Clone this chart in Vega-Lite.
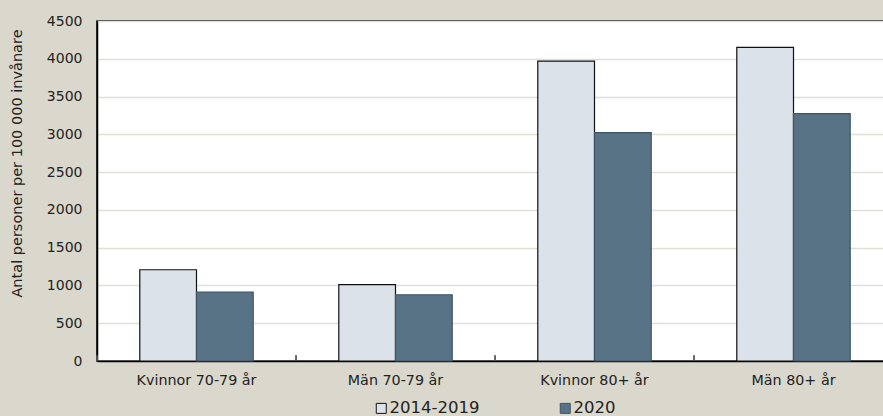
{
  "$schema": "https://vega.github.io/schema/vega-lite/v6.json",
  "autosize": {"type": "none"},
  "padding": {"left": 97, "top": 21, "right": 0, "bottom": 55},
  "width": 787,
  "height": 340,
  "background": "#dad8cc",
  "config": {
    "view": {"fill": "white", "stroke": "black", "strokeWidth": 1.5},
    "font": "DejaVu Sans"
  },
  "data": {
    "values": [
      {"grupp": "Kvinnor 70-79 år", "period": "2014-2019", "varde": 1208},
      {"grupp": "Kvinnor 70-79 år", "period": "2020", "varde": 913},
      {"grupp": "Män 70-79 år", "period": "2014-2019", "varde": 1010},
      {"grupp": "Män 70-79 år", "period": "2020", "varde": 877},
      {"grupp": "Kvinnor 80+ år", "period": "2014-2019", "varde": 3970},
      {"grupp": "Kvinnor 80+ år", "period": "2020", "varde": 3022},
      {"grupp": "Män 80+ år", "period": "2014-2019", "varde": 4151},
      {"grupp": "Män 80+ år", "period": "2020", "varde": 3273}
    ]
  },
  "layer": [
    {
      "mark": {"type": "bar", "strokeWidth": 1.2},
      "encoding": {
        "x": {
          "field": "grupp",
          "type": "nominal",
          "sort": ["Kvinnor 70-79 år", "Män 70-79 år", "Kvinnor 80+ år", "Män 80+ år"],
          "scale": {"range": [0, 796], "paddingInner": 0.43, "paddingOuter": 0.215},
          "axis": {
            "title": null,
            "labelAngle": 0,
            "labelFontSize": 14.3,
            "labelColor": "#222222",
            "domainColor": "black",
            "domainWidth": 1.5,
            "ticks": false,
            "labelPadding": 12,
            "labelLimit": 300
          }
        },
        "xOffset": {"field": "period", "type": "nominal", "sort": ["2014-2019", "2020"]},
        "y": {
          "field": "varde",
          "type": "quantitative",
          "scale": {"domain": [0, 4500], "nice": false},
          "axis": {
            "values": [0, 500, 1000, 1500, 2000, 2500, 3000, 3500, 4000, 4500],
            "format": "d",
            "title": "Antal personer per 100 000 invånare",
            "titleFontSize": 14.5,
            "titleFontWeight": "normal",
            "titleColor": "#222222",
            "titleAngle": 270,
            "titleX": -80,
            "titleY": 142,
            "titleAlign": "center",
            "titleBaseline": "middle",
            "labelFontSize": 14,
            "labelColor": "#222222",
            "labelPadding": 15,
            "ticks": false,
            "domainColor": "black",
            "domainWidth": 1.5,
            "gridColor": "#e2dfd6",
            "gridWidth": 1.5
          }
        },
        "fill": {
          "field": "period",
          "type": "nominal",
          "scale": {"domain": ["2014-2019", "2020"], "range": ["#dbe2e9", "#587385"]},
          "legend": {
            "title": null,
            "orient": "none",
            "direction": "horizontal",
            "legendX": 276,
            "legendY": 379,
            "padding": 0,
            "symbolType": "square",
            "symbolSize": 100,
            "symbolStrokeWidth": 1,
            "labelFontSize": 16.5,
            "labelColor": "#222222",
            "labelOffset": 0,
            "columnPadding": 77
          }
        },
        "stroke": {
          "field": "period",
          "type": "nominal",
          "scale": {"domain": ["2014-2019", "2020"], "range": ["#111111", "#3e5565"]},
          "legend": {
            "title": null,
            "orient": "none",
            "direction": "horizontal",
            "legendX": 276,
            "legendY": 379,
            "padding": 0,
            "symbolType": "square",
            "symbolSize": 100,
            "symbolStrokeWidth": 1,
            "labelFontSize": 16.5,
            "labelColor": "#222222",
            "labelOffset": 0,
            "columnPadding": 77
          }
        }
      }
    },
    {
      "mark": {"type": "rule", "color": "#555555", "strokeWidth": 1.3},
      "encoding": {
        "x": {
          "field": "grupp",
          "type": "nominal",
          "sort": ["Kvinnor 70-79 år", "Män 70-79 år", "Kvinnor 80+ år", "Män 80+ år"],
          "bandPosition": -0.377,
          "axis": {
            "title": null,
            "labelAngle": 0,
            "labelFontSize": 14.3,
            "labelColor": "#222222",
            "domainColor": "black",
            "domainWidth": 1.5,
            "ticks": false,
            "labelPadding": 12,
            "labelLimit": 300
          }
        },
        "y": {
          "datum": 0,
          "type": "quantitative",
          "axis": {
            "values": [0, 500, 1000, 1500, 2000, 2500, 3000, 3500, 4000, 4500],
            "format": "d",
            "title": "Antal personer per 100 000 invånare",
            "titleFontSize": 14.5,
            "titleFontWeight": "normal",
            "titleColor": "#222222",
            "titleAngle": 270,
            "titleX": -80,
            "titleY": 142,
            "titleAlign": "center",
            "titleBaseline": "middle",
            "labelFontSize": 14,
            "labelColor": "#222222",
            "labelPadding": 15,
            "ticks": false,
            "domainColor": "black",
            "domainWidth": 1.5,
            "gridColor": "#e2dfd6",
            "gridWidth": 1.5
          }
        },
        "y2": {"datum": 75}
      }
    }
  ]
}
